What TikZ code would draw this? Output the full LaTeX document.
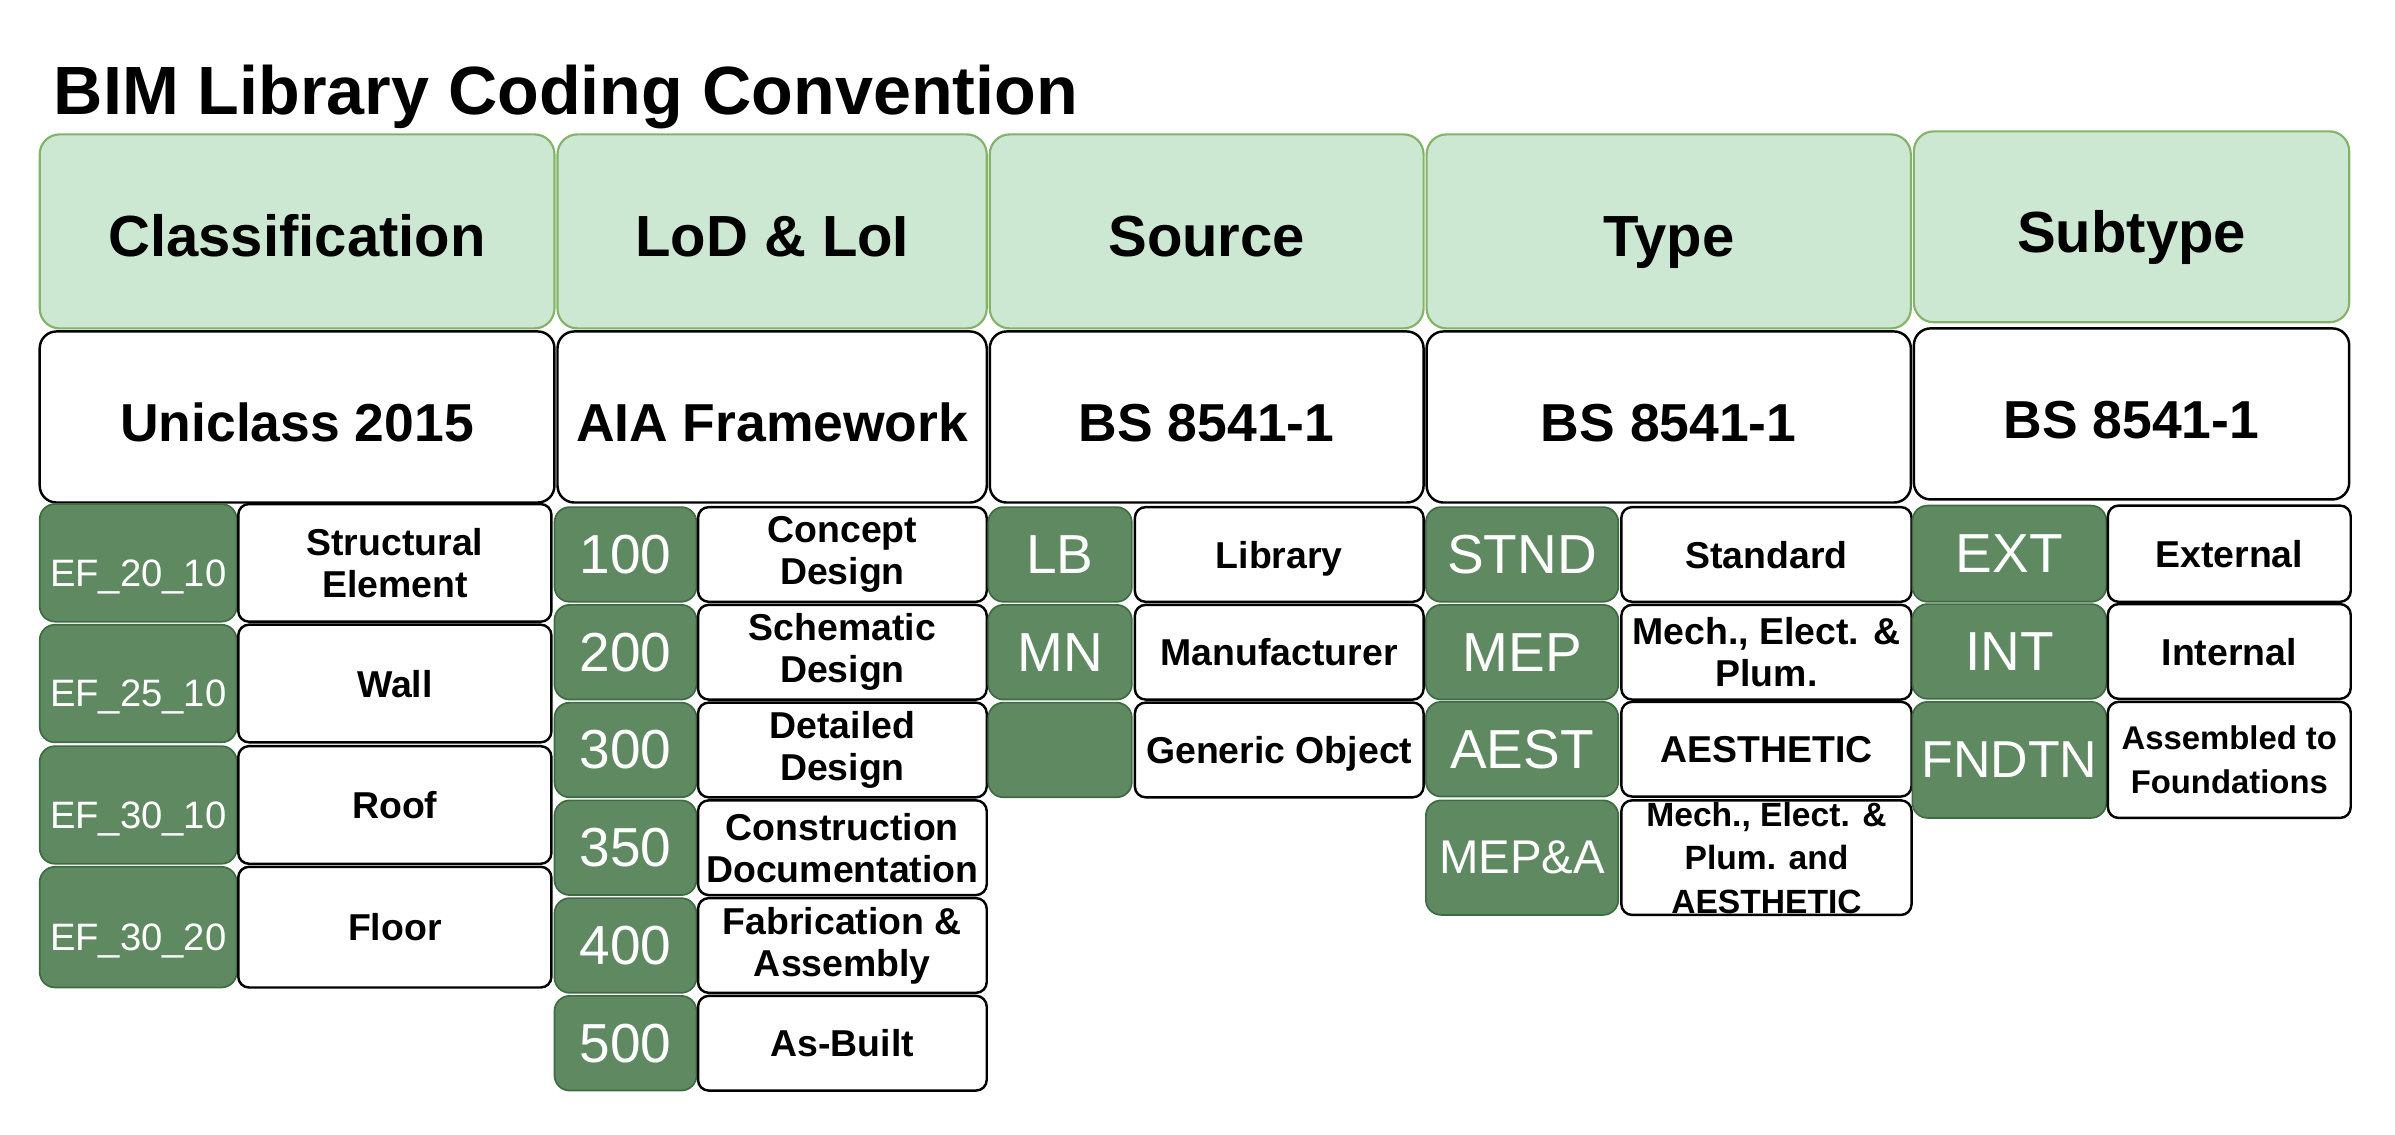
\documentclass[tikz,border=0pt]{standalone}
\usepackage{fontspec}
\setmainfont{Liberation Sans}
\definecolor{headfill}{HTML}{CDE8D2}
\definecolor{headline}{HTML}{82B366}
\definecolor{codefill}{HTML}{5F8A61}
\definecolor{codeline}{HTML}{3F6B42}

\begin{document}
\begin{tikzpicture}[x=1pt,y=-1pt,
  cell/.style={inner sep=0pt, outer sep=0pt, align=center},
  head/.style={cell, rounded corners=13pt, draw=headline, line width=1.4pt, fill=headfill,
    minimum height=127pt, text height=41pt, text depth=8pt, font=\fontsize{38}{40}\selectfont\bfseries},
  norm/.style={cell, rounded corners=11pt, draw=black, line width=1.6pt, fill=white,
    minimum height=112pt, text height=40pt, text depth=7.5pt, font=\fontsize{35}{38}\selectfont\bfseries},
  code/.style={cell, rounded corners=10pt, draw=codeline, line width=1.1pt, fill=codefill,
    text=white, minimum height=62pt, font=\fontsize{36}{38}\selectfont},
  desc/.style={cell, rounded corners=7pt, draw=black, line width=1.6pt, fill=white,
    minimum height=62pt, font=\fontsize{24.5}{27.5}\selectfont\bfseries},
  one/.style={text height=18pt, text depth=0pt},
  efcode/.style={code, minimum height=77pt, text height=35pt, text depth=4.5pt, font=\fontsize{25}{27}\selectfont},
  clskey/.style={efcode, minimum width=129pt},
  clsval/.style={desc, minimum width=205pt, minimum height=77pt},
  lodkey/.style={code, minimum width=93pt},
  lodval/.style={desc, minimum width=189pt},
  srckey/.style={code, minimum width=94pt},
  srcval/.style={desc, one, minimum width=189pt},
  typkey/.style={code, minimum width=126pt},
  typval/.style={desc, minimum width=190pt},
  subkey/.style={code, minimum width=127pt},
  subval/.style={desc, minimum width=159pt}]
\useasboundingbox (0,0) rectangle (1568,743);

\node[anchor=base west, inner sep=0pt, font=\fontsize{44.7}{48}\selectfont\bfseries] (title) at (35,75) {BIM Library Coding Convention};

% header row
\node[head, minimum width=337pt] (hCls) at (194.5,151.5) {Classification};
\node[head, minimum width=281pt] (hLod) at (505.5,151.5) {LoD \& LoI};
\node[head, minimum width=284pt] (hSrc) at (790,151.5) {Source};
\node[head, minimum width=317pt] (hTyp) at (1092.5,151.5) {Type};
\node[head, minimum width=285pt, minimum height=125pt] (hSub) at (1395.5,148.5) {Subtype};

% reference row
\node[norm, minimum width=337pt] (rCls) at (194.5,273) {Uniclass 2015};
\node[norm, minimum width=281pt] (rLod) at (505.5,273) {AIA Framework};
\node[norm, minimum width=284pt] (rSrc) at (790,273) {BS 8541-1};
\node[norm, minimum width=317pt] (rTyp) at (1092.5,273) {BS 8541-1};
\node[norm, minimum width=285pt] (rSub) at (1395.5,271) {BS 8541-1};

% classification
\node[clskey] (k11) at (90.5,368.5) {EF\_20\_10};
\node[clsval] (v11) at (258.5,368.5) {Structural\\Element};
\node[clskey] (k12) at (90.5,447.5) {EF\_25\_10};
\node[clsval, one] (v12) at (258.5,447.5) {Wall};
\node[clskey] (k13) at (90.5,527) {EF\_30\_10};
\node[clsval, one] (v13) at (258.5,527) {Roof};
\node[clskey, minimum height=79pt] (k14) at (90.5,607) {EF\_30\_20};
\node[clsval, one, minimum height=79pt] (v14) at (258.5,607) {Floor};

% level of development
\node[lodkey] (k21) at (409.5,363) {100};
\node[lodval] (v21) at (551.5,363) {Concept\\Design};
\node[lodkey] (k22) at (409.5,427) {200};
\node[lodval] (v22) at (551.5,427) {Schematic\\Design};
\node[lodkey] (k23) at (409.5,491) {300};
\node[lodval] (v23) at (551.5,491) {Detailed\\Design};
\node[lodkey] (k24) at (409.5,555) {350};
\node[lodval] (v24) at (551.5,555) {Construction\\Documentation};
\node[lodkey] (k25) at (409.5,619) {400};
\node[lodval] (v25) at (551.5,619) {Fabrication \&\\Assembly};
\node[lodkey] (k26) at (409.5,683) {500};
\node[lodval, one] (v26) at (551.5,683) {As-Built};

% source
\node[srckey] (k31) at (694,363) {LB};
\node[srcval] (v31) at (837.5,363) {Library};
\node[srckey] (k32) at (694,427) {MN};
\node[srcval] (v32) at (837.5,427) {Manufacturer};
\node[srckey] (k33) at (694,491) {};
\node[srcval] (v33) at (837.5,491) {Generic Object};

% type
\node[typkey] (k41) at (996.5,363) {STND};
\node[typval, one] (v41) at (1156.5,363) {Standard};
\node[typkey] (k42) at (996.5,427) {MEP};
\node[typval] (v42) at (1156.5,427) {Mech., Elect. \&\\Plum.};
\node[typkey] (k43) at (996.5,490.5) {AEST};
\node[typval, one] (v43) at (1156.5,490.5) {AESTHETIC};
\node[typkey, minimum height=75pt, font=\fontsize{31}{33}\selectfont] (k44) at (996.5,561.5) {MEP\&A};
\node[typval, minimum height=75pt, font=\fontsize{22}{28.4}\selectfont\bfseries] (v44) at (1156.5,561.5) {Mech., Elect. \&\\Plum. and\\AESTHETIC};

% subtype
\node[subkey, minimum height=63pt] (k51) at (1315.5,362.5) {EXT};
\node[subval, one, minimum height=63pt] (v51) at (1459.5,362.5) {External};
\node[subkey] (k52) at (1315.5,426.5) {INT};
\node[subval, one] (v52) at (1459.5,426.5) {Internal};
\node[subkey, minimum height=76pt, font=\fontsize{34}{36}\selectfont] (k53) at (1315.5,497.5) {FNDTN};
\node[subval, minimum height=76pt, font=\fontsize{21.5}{28.4}\selectfont\bfseries] (v53) at (1459.5,497.5) {Assembled to\\Foundations};
\end{tikzpicture}
\end{document}
